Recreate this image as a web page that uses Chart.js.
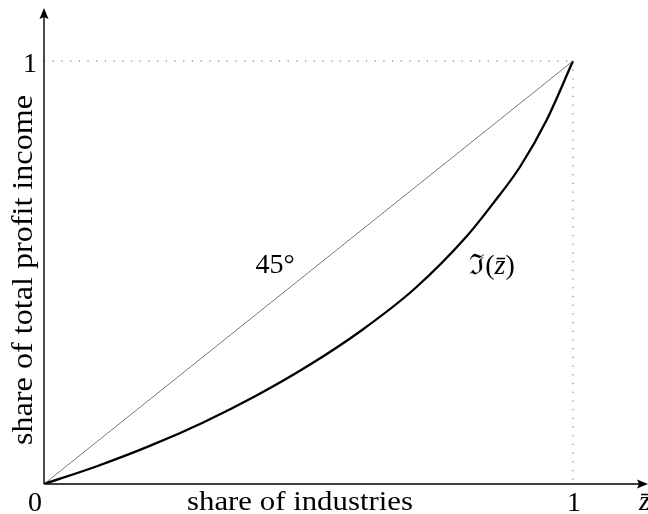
<!DOCTYPE html>
<html>
<head>
<meta charset="utf-8">
<script src="https://cdn.jsdelivr.net/npm/chart.js@4/dist/chart.umd.min.js"></script>
<style>
  html, body { margin: 0; padding: 0; background: #fff; }
  #wrap { width: 648px; height: 514px; }
</style>
</head>
<body>
<div id="wrap"><canvas id="c" width="648" height="514"></canvas></div>
<script>
// ---- data ----
const shareIndustries = [0, 0.1, 0.2, 0.3, 0.4, 0.5, 0.6, 0.7, 0.8, 0.85, 0.9, 0.95, 1];
const shareProfit     = [0, 0.042, 0.090, 0.145, 0.208, 0.280, 0.363, 0.461, 0.587, 0.665, 0.750, 0.860, 1];
const diagonalX = [0, 1];
const diagonalY = [0, 1];
const xTickLabels = ['0', '1'];
const yTickLabels = ['1'];
const xAxisTitle = 'share of industries';
const yAxisTitle = 'share of total profit income';
const xAxisVar = 'z\u0304';
const diagonalLabel = '45°';
const curveLabelParts = ['ℑ(', 'z\u0304', ')'];

const SERIF = '"Liberation Serif", "DejaVu Serif", serif';

function drawParts(ctx, parts, fonts, cx, baseline) {
  const widths = parts.map((p, i) => { ctx.font = fonts[i]; return ctx.measureText(p).width; });
  let x = cx - widths.reduce((a, b) => a + b, 0) / 2;
  ctx.textAlign = 'left';
  parts.forEach((p, i) => { ctx.font = fonts[i]; ctx.fillText(p, x, baseline); x += widths[i]; });
}

// draw centred text stretched horizontally to a given width
function fitText(ctx, text, cx, baseline, width) {
  const w = ctx.measureText(text).width;
  ctx.save();
  ctx.translate(cx, baseline);
  ctx.scale(width / w, 1);
  ctx.textAlign = 'center';
  ctx.fillText(text, 0, 0);
  ctx.restore();
}

const axesPlugin = {
  id: 'texAxes',
  afterDatasetsDraw(chart) {
    const ctx = chart.ctx;
    const xs = chart.scales.x, ys = chart.scales.y;
    const x0 = xs.getPixelForValue(0), x1 = xs.getPixelForValue(1);
    const y0 = ys.getPixelForValue(0), y1 = ys.getPixelForValue(1);
    const xEnd = xs.getPixelForValue(xs.max), yEnd = ys.getPixelForValue(ys.max);
    ctx.save();
    // dotted guides
    ctx.strokeStyle = '#666';
    ctx.lineWidth = 1;
    ctx.setLineDash([1.2, 7.5]);
    ctx.beginPath();
    ctx.moveTo(x0, y1); ctx.lineTo(x1, y1);
    ctx.moveTo(x1, y1); ctx.lineTo(x1, y0);
    ctx.stroke();
    ctx.setLineDash([]);
    // axes
    ctx.strokeStyle = '#000';
    ctx.lineWidth = 1.4;
    ctx.beginPath();
    ctx.moveTo(x0, y0); ctx.lineTo(xEnd - 8, y0);
    ctx.moveTo(x0, y0); ctx.lineTo(x0, yEnd + 8);
    ctx.stroke();
    // arrow heads
    ctx.fillStyle = '#000';
    ctx.beginPath();
    ctx.moveTo(xEnd, y0); ctx.lineTo(xEnd - 11, y0 - 4.5); ctx.lineTo(xEnd - 9, y0); ctx.lineTo(xEnd - 11, y0 + 4.5); ctx.closePath();
    ctx.fill();
    ctx.beginPath();
    ctx.moveTo(x0, yEnd); ctx.lineTo(x0 - 4.5, yEnd + 11); ctx.lineTo(x0, yEnd + 9); ctx.lineTo(x0 + 4.5, yEnd + 11); ctx.closePath();
    ctx.fill();
    // labels
    ctx.fillStyle = '#000';
    ctx.textBaseline = 'alphabetic';
    ctx.textAlign = 'center';
    ctx.font = '28px ' + SERIF;
    ctx.fillText(xTickLabels[0], x0 - 9, y0 + 27);
    ctx.fillText(xTickLabels[1], x1 + 1, y0 + 27);
    ctx.fillText(yTickLabels[0], x0 - 14, y1 + 11);
    ctx.fillText(diagonalLabel, 275, 273);
    fitText(ctx, xAxisTitle, 300, y0 + 26, 226);
    ctx.textAlign = 'left';
    ctx.font = 'italic 28px ' + SERIF;
    ctx.fillText(xAxisVar, 639, y0 + 26);
    drawParts(ctx, curveLabelParts,
      ['28px ' + SERIF, 'italic 28px ' + SERIF, '28px ' + SERIF], 492, 274);
    ctx.save();
    ctx.translate(32, 270);
    ctx.rotate(-Math.PI / 2);
    ctx.font = '29px ' + SERIF;
    fitText(ctx, yAxisTitle, 0, 0, 350);
    ctx.restore();
    ctx.restore();
  }
};

new Chart(document.getElementById('c'), {
  type: 'scatter',
  data: {
    datasets: [
      {
        data: diagonalX.map((x, i) => ({ x, y: diagonalY[i] })),
        showLine: true, borderColor: '#555', borderWidth: 0.8, pointRadius: 0
      },
      {
        data: shareIndustries.map((x, i) => ({ x, y: shareProfit[i] })),
        showLine: true, borderColor: '#000', borderWidth: 2.3, pointRadius: 0,
        cubicInterpolationMode: 'monotone'
      }
    ]
  },
  options: {
    responsive: false,
    animation: false,
    layout: { padding: { left: 44, right: 0, top: 8, bottom: 30 } },
    plugins: { legend: { display: false }, tooltip: { enabled: false } },
    scales: {
      x: { type: 'linear', min: 0, max: 1.1418, display: false },
      y: { type: 'linear', min: 0, max: 1.1253, display: false }
    }
  },
  plugins: [axesPlugin]
});
</script>
</body>
</html>
